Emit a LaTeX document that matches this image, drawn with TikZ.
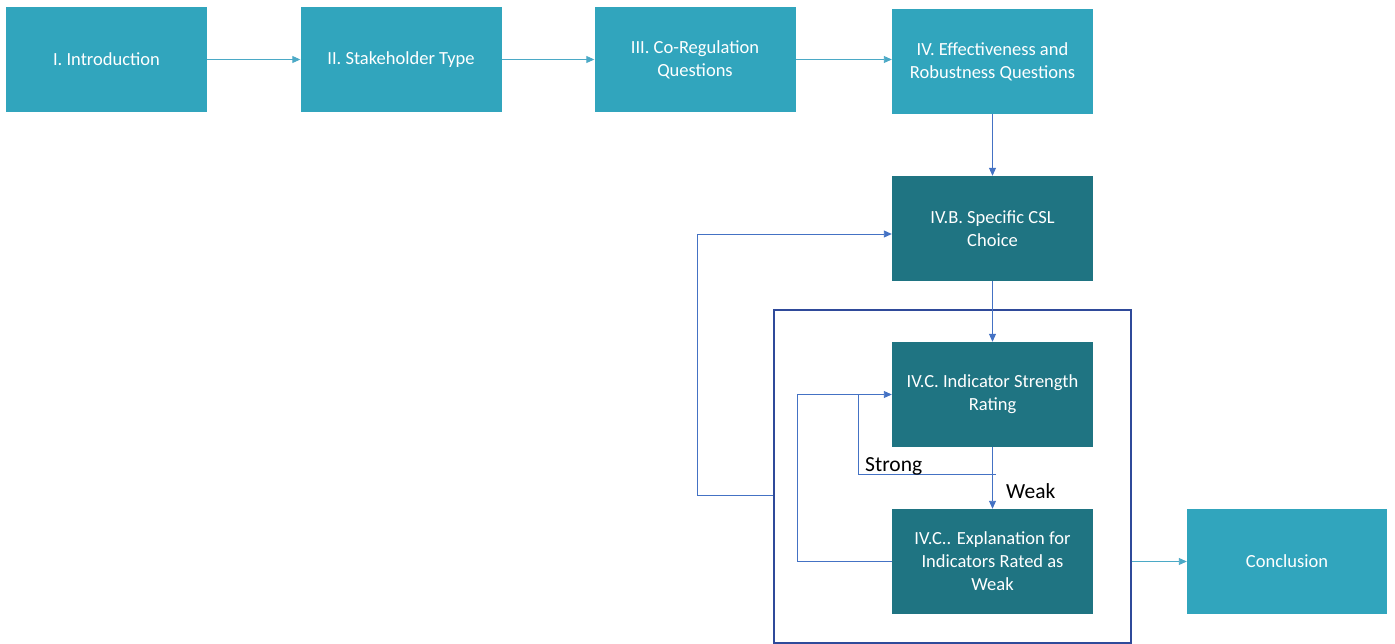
\documentclass[tikz,border=0pt]{standalone}
\usepackage{fontspec}
\setmainfont{Carlito}
\usetikzlibrary{arrows.meta,positioning}
\definecolor{lightteal}{HTML}{31A5BD}
\definecolor{darkteal}{HTML}{1F7482}
\definecolor{linkblue}{HTML}{4472C4}
\definecolor{linkteal}{HTML}{4BA9C6}
\definecolor{framblue}{HTML}{2F4A9A}
\begin{document}
\begin{tikzpicture}[x=1pt,y=-1pt,
  box/.style={draw=none,minimum width=201pt,minimum height=105pt,inner sep=0pt,
    text=white,align=center,font=\fontsize{18.5}{23}\selectfont},
  lbox/.style={box,fill=lightteal},
  dbox/.style={box,fill=darkteal},
  tarrow/.style={draw=linkteal,line width=0.9pt,-{Triangle[length=8pt,width=7pt]}},
  barrow/.style={draw=linkblue,line width=0.9pt,-{Triangle[length=8pt,width=7pt]}},
  bline/.style={draw=linkblue,line width=0.9pt},
  lbl/.style={font=\fontsize{21.5}{23}\selectfont,text=black,inner sep=0pt}]
\useasboundingbox (0,0) rectangle (1395,644);
\node[lbox] (intro) at (106.5,59.5) {I. Introduction};
\node[lbox] (stake) at (401,59.5) {II. Stakeholder Type};
\node[lbox] (coreg) at (695,59.5) {III. Co-Regulation\\Questions};
\node[lbox] (eff) at (992.5,61.5) {IV. Effectiveness and\\Robustness Questions};
\node[dbox] (csl) at (992.5,228.5) {IV.B. Specific CSL\\Choice};
\node[dbox] (rating) at (992.5,394.5) {IV.C. Indicator Strength\\Rating};
\node[dbox] (expl) at (992.5,561.5) {IV.C.. Explanation for\\Indicators Rated as\\Weak};
\node[lbox,minimum width=200pt] (concl) at (1287,561.5) {Conclusion};
\node[draw=framblue,line width=1.3pt,minimum width=357pt,minimum height=333pt,inner sep=0pt] (frame) at (952.5,476.5) {};
\draw[tarrow] (intro.east) -- (stake.west);
\draw[tarrow] (stake.east) -- (coreg.west);
\draw[tarrow] (coreg.east) -- (coreg.east -| eff.west);
\draw[barrow] (eff.south) -- (csl.north);
\draw[barrow] (csl.south) -- (rating.north);
\draw[barrow] (rating.south) -- (expl.north);
\coordinate (sR) at (996,474);
\coordinate (sL) at (858,474);
\draw[barrow] (sR) -- (sL) -- (sL |- rating.west) -- (rating.west);
\coordinate (eL) at (797,561.5);
\draw[bline] (expl.west) -- (eL) -- (eL |- rating.west) -- (sL |- rating.west);
\coordinate (oL) at (697,495);
\draw[barrow] (frame.west |- oL) -- (oL) -- (oL |- 0,234) -- (csl.west |- 0,234);
\draw[tarrow] (frame.east |- concl.west) -- (concl.west);
\node[lbl,anchor=south west] (strong) at (865,475) {Strong};
\node[lbl,anchor=west] (weak) at (1006,491) {Weak};
\end{tikzpicture}
\end{document}
